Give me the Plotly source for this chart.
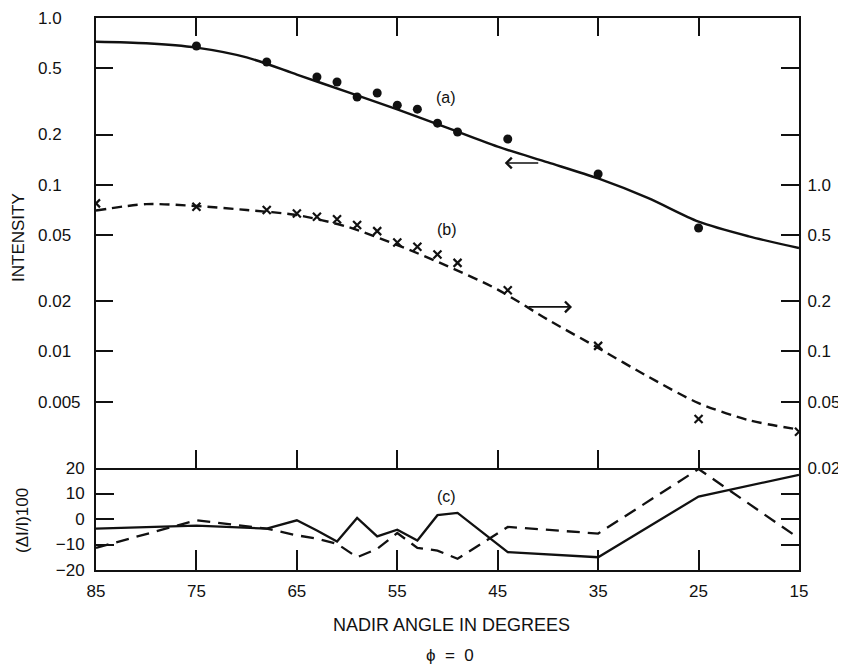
import math
import plotly.graph_objects as go

# ---------------- data ----------------
# fitted curve (a) (left intensity axis), read at 5-degree steps
fit_a_angle = [85, 80, 75, 70, 65, 60, 55, 50, 45, 40, 35, 30, 25, 20, 15]
fit_a_value = [0.72, 0.705, 0.664, 0.58, 0.458, 0.36, 0.283, 0.219, 0.169, 0.136, 0.109, 0.083, 0.060, 0.049, 0.0417]

# measured points (a)
obs_a_angle = [75, 68, 63, 61, 59, 57, 55, 53, 51, 49, 44, 35, 25]
obs_a_value = [0.679, 0.545, 0.443, 0.413, 0.336, 0.355, 0.30, 0.284, 0.234, 0.207, 0.188, 0.116, 0.055]

# fitted curve (b) (right intensity axis)
fit_b_angle = [85, 80, 75, 70, 65, 60, 55, 50, 45, 40, 35, 30, 25, 20, 15]
fit_b_value = [0.70, 0.765, 0.745, 0.705, 0.658, 0.56, 0.435, 0.325, 0.235, 0.155, 0.105, 0.0705, 0.049, 0.0387, 0.034]

# measured points (b)
obs_b_angle = [85, 75, 68, 65, 63, 61, 59, 57, 55, 53, 51, 49, 44, 35, 25, 15]
obs_b_value = [0.773, 0.738, 0.705, 0.673, 0.642, 0.62, 0.573, 0.527, 0.45, 0.425, 0.382, 0.34, 0.233, 0.108, 0.0393, 0.033]

# residuals (c)
res_angle = [85, 75, 68, 65, 63, 61, 59, 57, 55, 53, 51, 49, 44, 35, 25, 15]
res_solid = [-3.8, -2.6, -3.8, -0.5, -4.5, -8.8, 0.4, -6.8, -4.2, -8.4, 1.5, 2.4, -13, -15, 8.8, 17.3]
res_dash = [-11.3, -0.5, -3.8, -6.4, -7.7, -9.7, -15, -11.7, -5.5, -11.3, -12.4, -15.6, -3.1, -5.7, 19.6, -7.6]

x_ticks = [85, 75, 65, 55, 45, 35, 25, 15]
left_ticks = [0.005, 0.01, 0.02, 0.05, 0.1, 0.2, 0.5, 1.0]
left_text = ["0.005", "0.01", "0.02", "0.05", "0.1", "0.2", "0.5", "1.0"]
right_ticks = [0.02, 0.05, 0.1, 0.2, 0.5, 1.0, 2.0, 5.0]
right_text = ["0.02", "0.05", "0.1", "0.2", "0.5", "1.0", "", ""]
res_ticks = [-20, -10, 0, 10, 20]
res_text = ["\u221220", "\u221210", "0", "10", "20"]

# ---------------- layout geometry ----------------
OFF = 8                      # page body margin
W, H = 846 - OFF, 665 - OFF
ML, MT = 20, 18 - OFF
plot_right, plot_bottom = 799 - OFF, 570 - OFF
MR, MB = W - plot_right, H - plot_bottom
PW = W - ML - MR
PH = H - MT - MB
x_dom = [(96 - OFF - ML) / PW, 1]
split = 102 / PH

INK = "#111111"
FONT = "Liberation Sans, Arial, sans-serif"
TICKSIZE = 17

fig = go.Figure()

fig.add_trace(go.Scatter(x=fit_a_angle, y=fit_a_value, xaxis="x2", yaxis="y2",
                         mode="lines", line=dict(color=INK, width=2.4, shape="spline", smoothing=0.8)))
fig.add_trace(go.Scatter(x=obs_a_angle, y=obs_a_value, xaxis="x2", yaxis="y2",
                         mode="markers", marker=dict(color=INK, size=9, symbol="circle")))
fig.add_trace(go.Scatter(x=fit_b_angle, y=fit_b_value, xaxis="x2", yaxis="y3",
                         mode="lines", line=dict(color=INK, width=2.4, shape="spline", smoothing=0.8,
                                                 dash="10px,6px")))
fig.add_trace(go.Scatter(x=obs_b_angle, y=obs_b_value, xaxis="x2", yaxis="y3",
                         mode="markers", marker=dict(color=INK, size=8, symbol="x-thin",
                                                     line=dict(color=INK, width=2.2))))
fig.add_trace(go.Scatter(x=res_angle, y=res_solid, xaxis="x", yaxis="y",
                         mode="lines", line=dict(color=INK, width=2.3)))
fig.add_trace(go.Scatter(x=res_angle, y=res_dash, xaxis="x", yaxis="y",
                         mode="lines", line=dict(color=INK, width=2.3, dash="13px,8px")))
# anchor for the left-aligned label axis (invisible)
fig.add_trace(go.Scatter(x=[fit_a_angle[0]], y=[fit_a_value[0]], xaxis="x2", yaxis="y5",
                         mode="markers", marker=dict(opacity=0), hoverinfo="skip"))

axis_common = dict(showgrid=False, zeroline=False, showline=True, linecolor=INK,
                   linewidth=2, tickcolor=INK, tickwidth=2,
                   tickfont=dict(family=FONT, size=TICKSIZE, color=INK))

fig.update_layout(
    width=W, height=H,
    margin=dict(l=ML, r=MR, t=MT, b=MB, autoexpand=False),
    paper_bgcolor="white", plot_bgcolor="white",
    showlegend=False,
    font=dict(family=FONT, color=INK),
    xaxis=dict(**axis_common, domain=x_dom, anchor="y", range=[85, 15],
               tickmode="array", tickvals=x_ticks, ticktext=[str(v) for v in x_ticks],
               ticks="inside", ticklen=20, mirror=False, ticklabelstandoff=5),
    xaxis2=dict(**axis_common, domain=x_dom, anchor="y2", matches="x", range=[85, 15],
                tickmode="array", tickvals=x_ticks, ticks="inside", ticklen=18,
                mirror="ticks", showticklabels=False),
    yaxis=dict(**axis_common, domain=[0, split], anchor="x", range=[-20, 20],
               tickmode="array", tickvals=res_ticks, ticktext=res_text,
               ticks="inside", ticklen=18, mirror="ticks", ticklabelstandoff=6),
    yaxis2=dict(**axis_common, domain=[split, 1], anchor="x2", type="log",
                range=[math.log10(0.002), 0], tickmode="array", tickvals=left_ticks,
                ticks="inside", ticklen=17, showticklabels=False),
    yaxis3=dict(**axis_common, overlaying="y2", anchor="x2", side="right", type="log",
                range=[math.log10(0.02), 1], tickmode="array", tickvals=right_ticks,
                ticktext=right_text, ticks="inside", ticklen=18, ticklabelstandoff=3),
    yaxis5=dict(showgrid=False, zeroline=False, showline=False, overlaying="y2",
                anchor="free", side="right", position=(37 - OFF - ML) / PW, type="log",
                range=[math.log10(0.002), 0], tickmode="array", tickvals=left_ticks,
                ticktext=left_text, ticks="",
                tickfont=dict(family=FONT, size=TICKSIZE, color=INK)),
)

def ann(text, x, y, size=16, angle=0, **kw):
    fig.add_annotation(text=text, x=(x - OFF - ML) / PW, y=1 - (y - OFF - MT) / PH,
                       xref="paper", yref="paper", showarrow=False, textangle=angle,
                       font=dict(family=FONT, size=size, color=INK),
                       xanchor="center", yanchor="middle", **kw)

ann("INTENSITY", 18, 238, size=17, angle=-90)
ann("(\u0394I/I)100", 22, 521, size=17, angle=-90)
ann("NADIR ANGLE IN DEGREES", 451, 625, size=18)
ann("\u03d5\u00a0\u00a0=\u00a0\u00a00", 450, 655, size=17)
ann("(a)", 446, 98, size=16)
ann("(b)", 447, 230, size=16)
ann("(c)", 447, 496, size=16)

# arrows pointing to the relevant axis
fig.add_annotation(x=44.3, y=math.log10(0.135), xref="x2", yref="y2", ax=35, ay=0,
                   showarrow=True, arrowhead=4, arrowsize=1.3, arrowwidth=1.6, arrowcolor=INK, text="")
fig.add_annotation(x=37.6, y=math.log10(0.185), xref="x2", yref="y3", ax=-45, ay=0,
                   showarrow=True, arrowhead=4, arrowsize=1.3, arrowwidth=1.6, arrowcolor=INK, text="")

fig.write_html("out.html")
